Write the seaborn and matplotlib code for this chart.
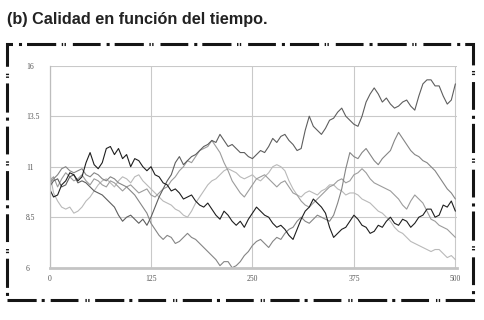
import matplotlib
matplotlib.use("Agg")
import matplotlib.pyplot as plt
import seaborn as sns
import pandas as pd
from matplotlib.patches import Rectangle

# tiempo (cada 5 unidades) y calidad de cada trayectoria
tiempo = list(range(0, 501, 5))

serie_negra = [9.9, 9.5, 9.6, 10.1, 10.3, 10.7, 10.6, 10.3, 10.5, 11.2,
               11.7, 11.1, 10.9, 11.2, 11.9, 12.0, 11.6, 11.9, 11.4, 11.6,
               11.0, 11.4, 11.3, 11.0, 10.8, 11.0, 10.6, 10.5, 10.2, 10.1,
               9.8, 9.9, 9.7, 9.4, 9.5, 9.6, 9.3, 9.1, 9.0, 9.2,
               8.9, 8.6, 8.4, 8.8, 8.6, 8.3, 8.1, 8.3, 8.0, 8.4,
               8.7, 9.0, 8.8, 8.6, 8.5, 8.2, 8.0, 8.1, 7.9, 7.6,
               7.4, 7.9, 8.4, 8.8, 9.0, 9.4, 9.2, 9.0, 8.7, 8.0,
               7.5, 7.7, 7.9, 8.0, 8.3, 8.6, 8.4, 8.1, 8.0, 7.7,
               7.8, 8.1, 8.0, 8.3, 8.5, 8.2, 8.1, 8.4, 8.3, 8.0,
               8.2, 8.5, 8.6, 8.9, 8.9, 8.5, 8.6, 9.1, 9.0, 9.3,
               8.8]

serie_oscura = [10.0, 10.3, 10.4, 10.0, 10.1, 10.5, 10.6, 10.2, 10.3, 10.2,
                10.0, 9.8, 9.7, 9.6, 9.4, 9.2, 9.0, 8.6, 8.3, 8.5,
                8.6, 8.4, 8.2, 8.4, 8.1, 8.5, 9.0, 9.5, 9.9, 10.3,
                10.6, 11.2, 11.5, 11.1, 11.3, 11.5, 11.6, 11.8, 12.0, 12.1,
                12.3, 12.2, 12.6, 12.3, 12.0, 12.1, 11.9, 11.7, 11.7, 11.5,
                11.4, 11.6, 11.8, 11.7, 12.0, 12.4, 12.2, 12.5, 12.6, 12.3,
                12.1, 11.8, 11.9, 12.8, 13.5, 13.0, 12.8, 12.6, 12.9, 13.3,
                13.4, 13.7, 13.9, 13.5, 13.3, 13.1, 13.0, 13.5, 14.2, 14.6,
                14.9, 14.6, 14.2, 14.4, 14.1, 13.9, 14.0, 14.2, 14.3, 14.0,
                13.8, 14.5, 15.1, 15.3, 15.3, 15.0, 15.0, 14.5, 14.1, 14.3,
                15.1]

serie_media = [10.3, 10.5, 10.0, 10.4, 10.7, 10.5, 10.3, 10.4, 10.6, 10.3,
               10.1, 10.4, 10.3, 10.1, 10.0, 10.3, 10.2, 10.0, 9.8, 10.0,
               10.1, 9.9, 9.7, 9.8, 9.9, 9.6, 9.5, 9.7, 9.9, 10.0,
               10.3, 10.5, 10.8, 11.0, 11.3, 11.2, 11.5, 11.8, 11.9, 12.0,
               12.3, 12.0, 11.7, 11.2, 10.8, 10.3, 10.0, 9.7, 9.5, 9.8,
               10.1, 10.4, 10.5, 10.6, 10.4, 10.2, 10.0, 10.2, 10.3, 10.0,
               9.7, 9.6, 9.3, 9.1, 9.0, 9.2, 9.4, 9.6, 9.8, 10.0,
               10.1, 10.3, 10.4, 10.2, 10.3, 10.6, 10.7, 10.9, 10.7, 10.4,
               10.2, 10.1, 10.0, 9.9, 9.8, 9.6, 9.4, 9.1, 8.9, 9.3,
               9.6, 9.4, 9.2, 8.8, 8.4, 8.3, 8.1, 8.0, 7.9, 7.7,
               7.5]

serie_baja = [10.2, 10.4, 10.6, 10.9, 11.0, 10.8, 10.7, 10.8, 10.9, 10.6,
              10.5, 10.7, 10.6, 10.4, 10.3, 10.5, 10.4, 10.2, 10.1, 10.0,
              9.8, 9.6, 9.3, 9.0, 8.7, 8.2, 7.9, 7.6, 7.4, 7.6,
              7.5, 7.2, 7.3, 7.5, 7.7, 7.5, 7.4, 7.2, 7.0, 6.8,
              6.6, 6.4, 6.1, 6.3, 6.3, 6.0, 6.1, 6.3, 6.6, 6.8,
              7.1, 7.3, 7.4, 7.2, 7.0, 7.3, 7.5, 7.4, 7.7, 7.9,
              8.0, 8.3, 8.5, 8.3, 8.2, 8.4, 8.6, 8.5, 8.4, 8.3,
              8.6, 9.2, 9.9, 10.9, 11.7, 11.5, 11.4, 11.7, 11.9, 11.6,
              11.3, 11.1, 11.4, 11.6, 11.8, 12.3, 12.7, 12.4, 12.1, 11.8,
              11.6, 11.5, 11.3, 11.2, 11.0, 10.8, 10.5, 10.2, 9.9, 9.7,
              9.4]

serie_clara = [10.8, 9.7, 9.3, 9.0, 8.9, 9.0, 8.7, 8.8, 9.0, 9.3,
               9.5, 9.8, 10.1, 10.3, 10.4, 10.2, 10.0, 10.3, 10.5, 10.4,
               10.2, 10.5, 10.6, 10.3, 10.1, 9.9, 9.7, 9.5, 9.3, 9.2,
               9.1, 8.9, 8.8, 8.6, 8.5, 8.8, 9.2, 9.5, 9.8, 10.1,
               10.3, 10.4, 10.6, 10.8, 10.9, 10.8, 10.7, 10.5, 10.4, 10.5,
               10.6, 10.4, 10.3, 10.5, 10.7, 11.0, 11.1, 11.0, 10.8, 10.3,
               9.9, 9.6, 9.5, 9.7, 9.8, 9.7, 9.6, 9.8, 9.9, 10.1,
               10.1, 9.9, 9.8, 9.6, 9.7, 9.7, 9.6, 9.4, 9.3, 9.2,
               9.0, 8.8, 8.7, 8.5, 8.3, 8.0, 7.8, 7.7, 7.5, 7.3,
               7.2, 7.1, 7.0, 6.9, 6.8, 6.9, 6.9, 6.7, 6.5, 6.6,
               6.4]

nombres = ["clara", "media", "baja", "oscura", "negra"]
colores = {"clara": "#b9b9b9", "media": "#9c9c9c", "baja": "#858585",
           "oscura": "#5e5e5e", "negra": "#1e1e1e"}
valores = [serie_clara, serie_media, serie_baja, serie_oscura, serie_negra]

df = pd.DataFrame({
    "tiempo": tiempo * len(nombres),
    "calidad": [v for s in valores for v in s],
    "serie": [n for n in nombres for _ in tiempo],
})

sns.set_style("white")
plt.rcParams["lines.scale_dashes"] = False

fig = plt.figure(figsize=(4.84, 3.2), dpi=100)
ax = fig.add_axes([49.5 / 484, 52.3 / 320, 407.5 / 484, 202 / 320])

sns.lineplot(data=df, x="tiempo", y="calidad", hue="serie", hue_order=nombres,
             palette=colores, linewidth=0.8, legend=False, estimator=None,
             sort=False, ax=ax)

ax.set_xlim(0, 502)
ax.set_ylim(6, 16)
ax.set_xticks([0, 125, 250, 375, 500])
ax.set_xticklabels(["0", "125", "250", "375", "500"])
ax.set_yticks([6, 8.5, 11, 13.5, 16])
ax.set_yticklabels(["6", "8.5", "11", "13.5", "16"])
ax.grid(True, color="#c9c9c9", lw=0.8)
ax.set_axisbelow(True)
ax.set_xlabel("")
ax.set_ylabel("")

for s in ["top", "right"]:
    ax.spines[s].set_visible(False)
ax.spines["left"].set_color("#bdbdbd")
ax.spines["left"].set_linewidth(0.9)
ax.spines["bottom"].set_color("#c4c4c4")
ax.spines["bottom"].set_linewidth(2)

ax.tick_params(length=0, labelsize=5.5, labelcolor="#555555")
ax.tick_params(axis="y", pad=17)
ax.tick_params(axis="x", pad=5)
for lab in ax.get_xticklabels() + ax.get_yticklabels():
    lab.set_family(["Liberation Serif", "DejaVu Serif"])
for lab in ax.get_yticklabels():
    lab.set_ha("left")

fig.text(7 / 484, 1 - 19.5 / 320, "(b) Calidad en función del tiempo.",
         family=["Liberation Sans", "DejaVu Sans"],
         fontweight="bold", fontsize=11.7, color="#222222", va="center", ha="left")

marco = Rectangle((7 / 484, 20 / 320), 466 / 484, 256 / 320, fill=False,
                  lw=2.2, edgecolor="#151515", transform=fig.transFigure,
                  linestyle=(0, (21, 3.6, 2.2, 4.3, 20, 5, 1, 1, 1, 4)))
fig.add_artist(marco)

fig.savefig("out.png", dpi=100)
